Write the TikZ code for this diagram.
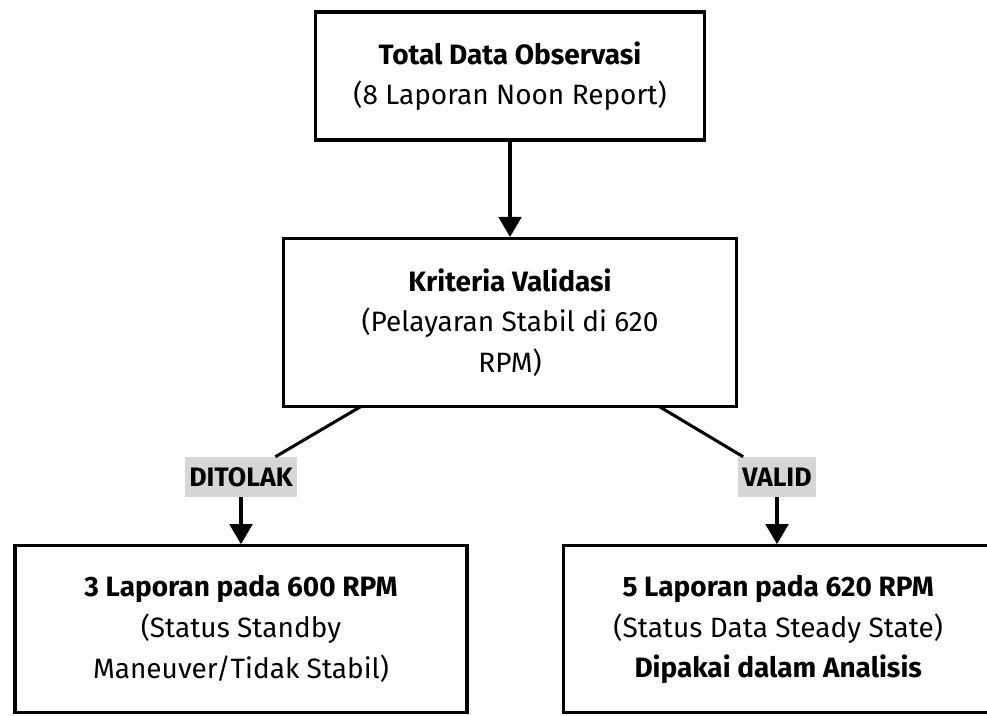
\documentclass[tikz,border=0pt]{standalone}
\usepackage{fontspec}
\setmainfont{Fira Sans}
\usetikzlibrary{arrows.meta}
\definecolor{lblgray}{HTML}{D6D6D6}
\begin{document}
\begin{tikzpicture}[x=0.75pt,y=-0.75pt,
  box/.style={draw=black, line width=2.3pt, fill=white, align=center,
    inner sep=0pt, font=\fontsize{21}{30.5}\selectfont},
  lbl/.style={fill=lblgray, inner sep=0pt, minimum width=84pt, minimum height=30pt,
    font=\fontsize{20}{22}\selectfont\bfseries},
  conn/.style={line width=2.3pt},
  arr/.style={line width=2.3pt, -{Triangle[width=17pt,length=15pt]}}]
\useasboundingbox (0,0) rectangle (987,715);
\node[box, minimum width=292pt, minimum height=96pt] (top) at (510,76)
  {\textbf{Total Data Observasi}\\(8 Laporan Noon Report)};
\node[box, minimum width=340pt, minimum height=126pt] (mid) at (510,322.5)
  {\textbf{Kriteria Validasi}\\(Pelayaran Stabil di 620\\RPM)};
\node[lbl] (tolak) at (241,477) {DITOLAK};
\node[lbl, minimum width=59pt] (valid) at (777,477) {VALID};
\node[box, minimum width=339pt, minimum height=125pt] (left) at (241,629)
  {\textbf{3 Laporan pada 600 RPM}\\(Status Standby\\Maneuver/Tidak Stabil)};
\node[box, minimum width=336pt, minimum height=125pt, anchor=west] (right) at (562,629)
  {\begin{tabular}{@{}c@{\hspace{14pt}}}\textbf{5 Laporan pada 620 RPM}\\(Status Data Steady State)\\\textbf{Dipakai dalam Analisis}\end{tabular}};
\coordinate (ml) at (360,407);
\coordinate (mr) at (660,407);
\draw[arr] (top) -- (mid);
\draw[conn] (ml) -- (tolak);
\draw[conn] (mr) -- (valid);
\draw[arr] (tolak) -- (tolak |- left.north);
\draw[arr] (valid) -- (valid |- right.north);
\end{tikzpicture}
\end{document}
